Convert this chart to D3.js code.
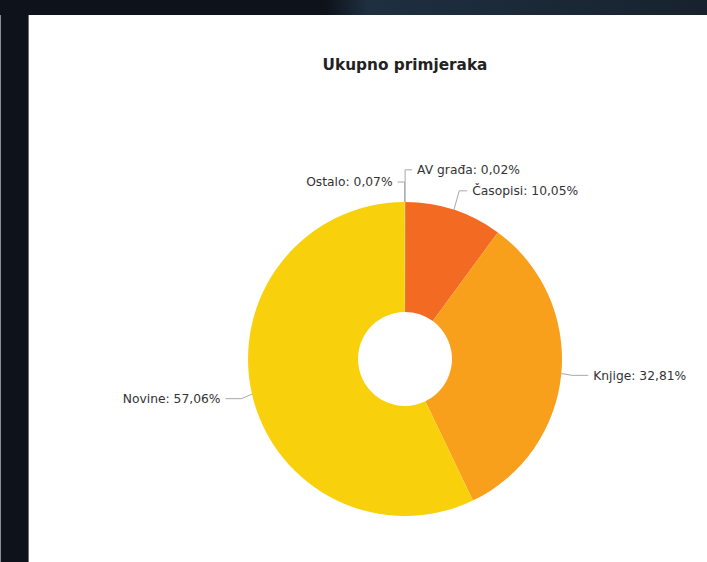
<!DOCTYPE html>
<html>
<head>
<meta charset="utf-8">
<script src="https://cdn.jsdelivr.net/npm/d3@7/dist/d3.min.js"></script>
<style>
html,body{margin:0;padding:0;background:#0e121a;}
svg{display:block;}
</style>
</head>
<body>
<svg id="chart" width="707" height="562"></svg>
<script>
const title = "Ukupno primjeraka";
const categories = ["AV građa", "Časopisi", "Knjige", "Novine", "Ostalo"];
const values = [0.02, 10.05, 32.81, 57.06, 0.07];
const labels = ["AV građa: 0,02%", "Časopisi: 10,05%", "Knjige: 32,81%", "Novine: 57,06%", "Ostalo: 0,07%"];
const colors = ["#f06a24", "#f36a22", "#f8a01c", "#f8d10c", "#f8d10c"];

const W = 707, H = 562;
const svg = d3.select("#chart");

const defs = svg.append("defs");
const g1 = defs.append("linearGradient").attr("id","topbg").attr("x1","0").attr("x2","1");
g1.append("stop").attr("offset","0").attr("stop-color","#0e121a");
g1.append("stop").attr("offset","0.46").attr("stop-color","#0e121a");
g1.append("stop").attr("offset","0.52").attr("stop-color","#1e2f40");
g1.append("stop").attr("offset","1").attr("stop-color","#18222e");
svg.append("rect").attr("x",0).attr("y",0).attr("width",W).attr("height",H).attr("fill","#0e121a");
svg.append("rect").attr("x",0).attr("y",0).attr("width",W).attr("height",15).attr("fill","url(#topbg)");
svg.append("rect").attr("x",0).attr("y",15).attr("width",1).attr("height",H-15).attr("fill","#8a8d92");
svg.append("rect").attr("x",28).attr("y",15).attr("width",1).attr("height",H-15).attr("fill","#6d7075");
svg.append("rect").attr("x",29).attr("y",15).attr("width",W-29).attr("height",H-15).attr("fill","#ffffff");

svg.append("text").attr("x",405).attr("y",70).attr("text-anchor","middle")
  .attr("font-family","Verdana, 'DejaVu Sans', sans-serif").attr("font-weight","bold")
  .attr("font-size",15.3).attr("fill","#222").text(title);

const cx = 405, cy = 359, R = 157, r0 = 47;
const data = categories.map((c,i)=>({cat:c, value:values[i], label:labels[i], color:colors[i]}));
const pie = d3.pie().sort(null).value(d=>d.value).startAngle(0).endAngle(2*Math.PI);
const arcs = pie(data);
const arc = d3.arc().innerRadius(r0).outerRadius(R);

const g = svg.append("g").attr("transform",`translate(${cx},${cy})`);
g.selectAll("path.slice").data(arcs).join("path").attr("class","slice")
  .attr("d",arc).attr("fill",d=>d.data.color);

const dist = 20;
const items = arcs.map(a=>{
  const m = (a.startAngle+a.endAngle)/2;
  const right = Math.sin(m) >= 0;
  return {a, m, right,
    px: Math.sin(m)*R, py: -Math.cos(m)*R,
    lx: Math.sin(m)*(R+dist), y: -Math.cos(m)*(R+dist)};
});
const gap = 21;
[true,false].forEach(side=>{
  const s = items.filter(d=>d.right===side).sort((p,q)=>p.y-q.y);
  for(let i=s.length-2;i>=0;i--){
    if(s[i].y > s[i+1].y-gap) s[i].y = s[i+1].y-gap;
  }
});
const lg = svg.append("g").attr("transform",`translate(${cx},${cy})`);
items.forEach(d=>{
  const sgn = d.right?1:-1;
  const tx = d.lx + sgn*12;
  const ex = tx - sgn*5;
  const kx = Math.abs(d.px) < 5 ? d.px : d.px + (ex-d.px)*0.4;
  lg.append("path")
    .attr("d",`M${ex},${d.y}L${kx},${d.y}L${d.px},${d.py}`)
    .attr("fill","none").attr("stroke","#a8a8a8").attr("stroke-width",1);
  lg.append("text").attr("x",tx).attr("y",d.y).attr("dy","0.36em")
    .attr("text-anchor",d.right?"start":"end")
    .attr("font-family","Verdana, 'DejaVu Sans', sans-serif")
    .attr("font-size",12.3).attr("fill","#333").text(d.a.data.label);
});
</script>
</body>
</html>
